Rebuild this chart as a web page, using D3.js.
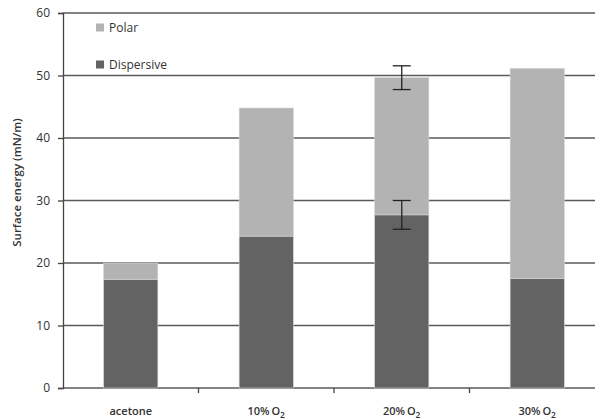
<!DOCTYPE html>
<html>
<head>
<meta charset="utf-8">
<script src="https://cdn.jsdelivr.net/npm/d3@7"></script>
<style>
  html, body { margin: 0; padding: 0; background: #fff; }
  svg { display: block; font-family: "Open Sans", "Liberation Sans", sans-serif; }
</style>
</head>
<body>
<svg id="chart" width="595" height="420"></svg>
<script>
// Surface energy components per treatment (mN/m)
const categories = ["acetone", "10%", "20%", "30%"];
const dispersive = [17.4, 24.3, 27.7, 17.5];
const polar = [2.6, 20.5, 21.95, 33.65];
const dispersiveErr = [null, null, 2.3, null];
const totalErr = [null, null, 1.9, null];
const yTicks = [0, 10, 20, 30, 40, 50, 60];
const seriesNames = ["Polar", "Dispersive"];
const colors = { Polar: "#b3b3b3", Dispersive: "#636363" };

const svg = d3.select("#chart");
const margin = { left: 63, top: 13, bottom: 32 };
const plotRight = 605;
const height = 420;

const x = d3.scaleBand()
  .domain(categories)
  .range([margin.left, plotRight])
  .paddingInner(0.6)
  .paddingOuter(0.3);

const xOuter = d3.scaleBand().domain(categories).range([margin.left, plotRight]);

const y = d3.scaleLinear().domain([0, 60]).range([height - margin.bottom, margin.top]);

// Horizontal gridlines
svg.append("g")
  .selectAll("line")
  .data(yTicks)
  .join("line")
  .attr("x1", margin.left)
  .attr("x2", 595)
  .attr("y1", d => y(d))
  .attr("y2", d => y(d))
  .attr("stroke", "#5a5a5a")
  .attr("stroke-width", 1.3);

// Y axis
const yAxis = svg.append("g")
  .attr("transform", `translate(${margin.left},0)`)
  .call(d3.axisLeft(y).tickValues(yTicks).tickSize(5).tickPadding(8).tickFormat(d3.format("d")));
yAxis.select(".domain").attr("stroke", "#444").attr("stroke-width", 1.3);
yAxis.selectAll(".tick line").attr("stroke", "#444").attr("stroke-width", 1.3);
yAxis.selectAll("text")
  .attr("font-size", 12)
  .attr("fill", "#333")
  .attr("font-family", "'Open Sans', 'Liberation Sans', sans-serif");

// X axis boundary ticks
const boundaries = categories.slice(1).map(c => xOuter(c));
svg.append("g")
  .selectAll("line")
  .data(boundaries)
  .join("line")
  .attr("x1", d => d).attr("x2", d => d)
  .attr("y1", y(0)).attr("y2", y(0) + 5)
  .attr("stroke", "#444").attr("stroke-width", 1.3);

// Stacked bars
const rows = categories.map((c, i) => ({ cat: c, Dispersive: dispersive[i], Polar: polar[i] }));
const stack = d3.stack().keys(["Dispersive", "Polar"])(rows);

svg.append("g")
  .selectAll("g")
  .data(stack)
  .join("g")
  .attr("fill", d => colors[d.key])
  .selectAll("rect")
  .data(d => d)
  .join("rect")
  .attr("x", d => x(d.data.cat))
  .attr("width", x.bandwidth())
  .attr("y", d => y(d[1]))
  .attr("height", d => y(d[0]) - y(d[1]))
  .attr("stroke", "#d6d6d6")
  .attr("stroke-width", 0.6);

// Error bars
const errData = [];
categories.forEach((c, i) => {
  if (dispersiveErr[i] != null) errData.push({ cat: c, v: dispersive[i], e: dispersiveErr[i] });
  if (totalErr[i] != null) errData.push({ cat: c, v: dispersive[i] + polar[i], e: totalErr[i] });
});
const eg = svg.append("g").attr("stroke", "#222").attr("stroke-width", 1.3);
errData.forEach(d => {
  const cx = x(d.cat) + x.bandwidth() / 2;
  eg.append("line").attr("x1", cx).attr("x2", cx).attr("y1", y(d.v + d.e)).attr("y2", y(d.v - d.e));
  eg.append("line").attr("x1", cx - 9).attr("x2", cx + 9).attr("y1", y(d.v + d.e)).attr("y2", y(d.v + d.e));
  eg.append("line").attr("x1", cx - 9).attr("x2", cx + 9).attr("y1", y(d.v - d.e)).attr("y2", y(d.v - d.e));
});

// Category labels (O2 with subscript)
const labels = svg.append("g")
  .attr("font-size", 11)
  .attr("font-weight", 600)
  .attr("fill", "#333")
  .attr("text-anchor", "middle");
categories.forEach(c => {
  const t = labels.append("text")
    .attr("x", xOuter(c) + xOuter.bandwidth() / 2)
    .attr("y", 415);
  if (c === "acetone") {
    t.text(c);
  } else {
    t.append("tspan").text(c + "\u2009O");
    t.append("tspan").attr("font-size", 8.5).attr("dy", 3).text("2");
  }
});

// Legend
const legend = svg.append("g");
const legendY = [27.5, 64.5];
seriesNames.forEach((name, i) => {
  legend.append("rect")
    .attr("x", 96).attr("y", legendY[i] - 4)
    .attr("width", 8).attr("height", 8)
    .attr("fill", colors[name]);
  legend.append("text")
    .attr("x", 109).attr("y", legendY[i] + 4.5)
    .attr("font-size", 12)
    .attr("fill", "#333")
    .text(name);
});

// Y axis title
svg.append("text")
  .attr("transform", `translate(21,${(y(0) + y(60)) / 2 - 18}) rotate(-90)`)
  .attr("text-anchor", "middle")
  .attr("font-size", 11.5)
  .attr("font-weight", 600)
  .attr("fill", "#333")
  .text("Surface energy (mN/m)");
</script>
</body>
</html>
